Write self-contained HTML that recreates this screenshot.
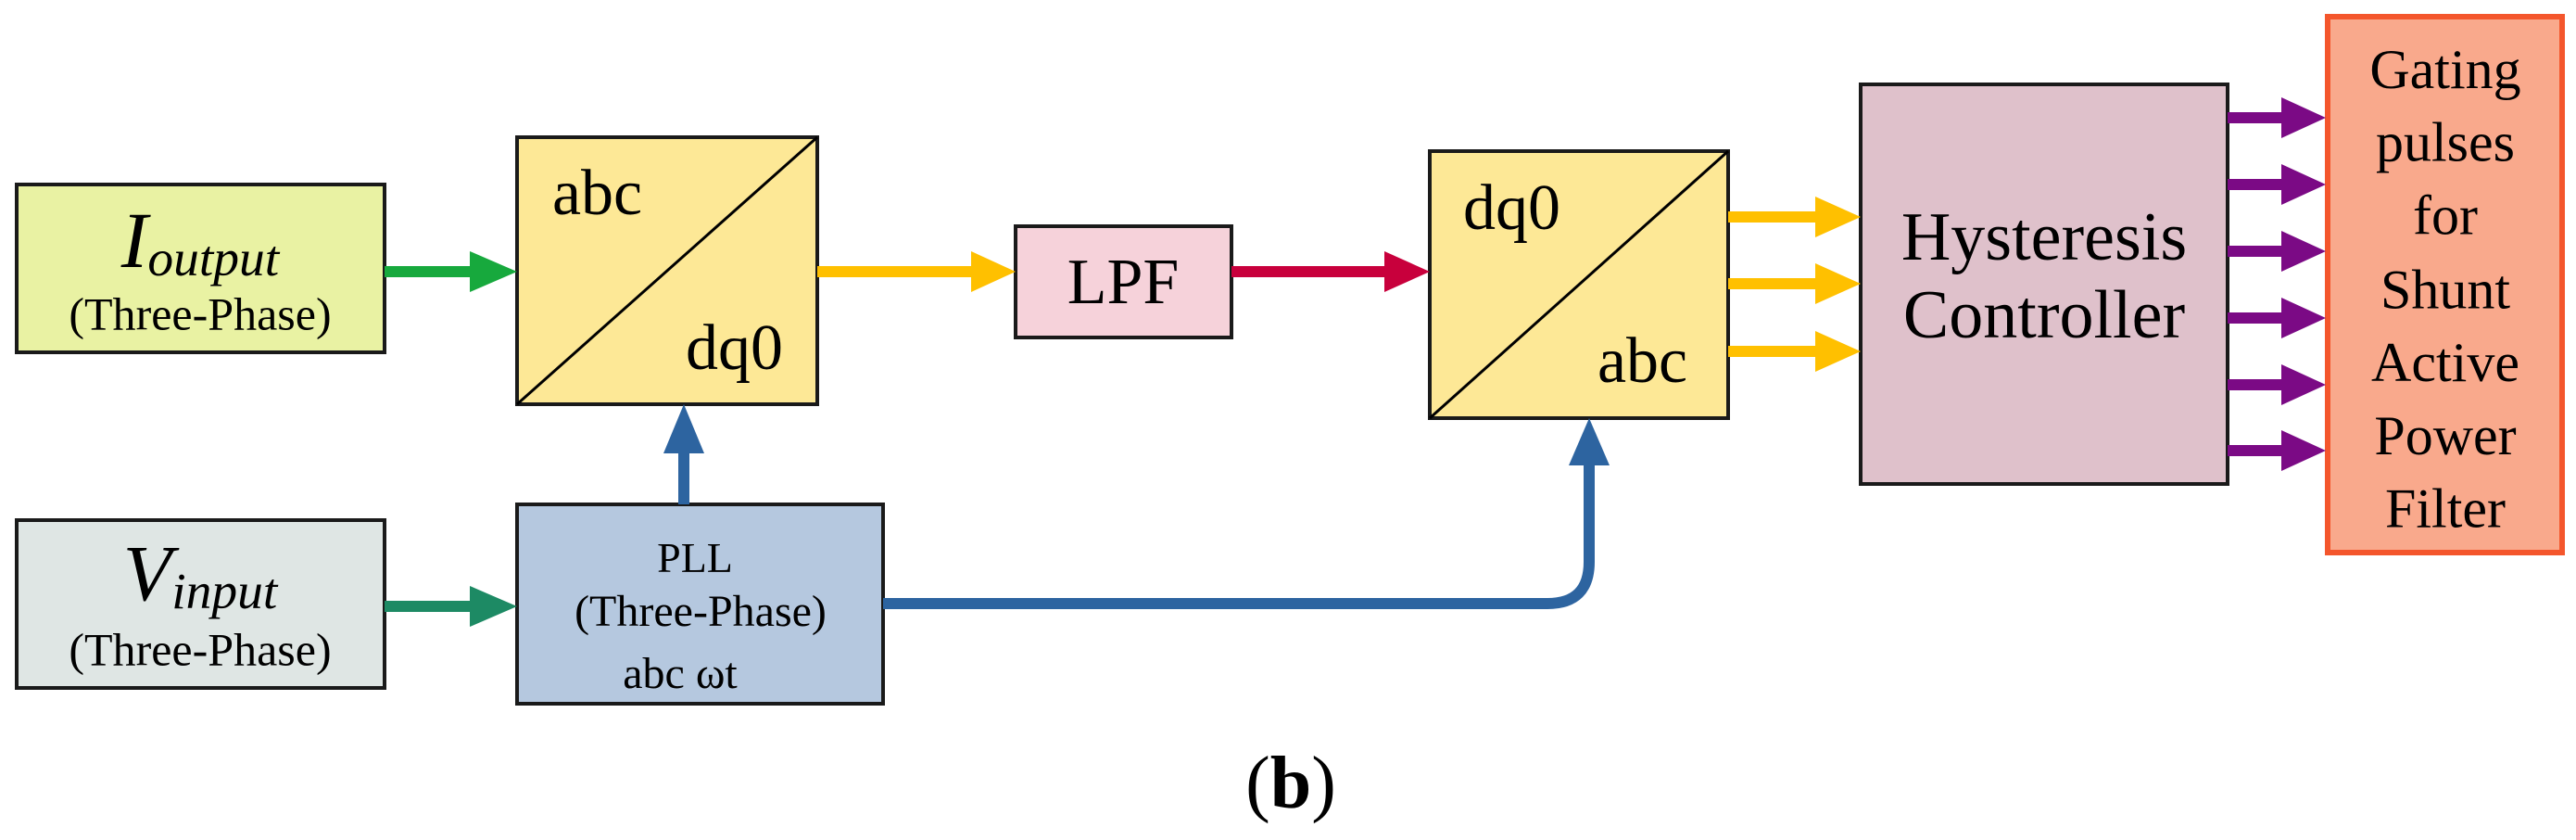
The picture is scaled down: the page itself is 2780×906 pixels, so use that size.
<!DOCTYPE html>
<html><head><meta charset="utf-8"><style>
html,body{margin:0;padding:0;background:#fff;}
#w{position:relative;width:2780px;height:906px;overflow:hidden;}
svg{position:absolute;left:0;top:0;display:block;}
.t{position:absolute;font-family:"Liberation Serif","Times New Roman",serif;font-size:48px;line-height:1;white-space:nowrap;color:#000;transform-origin:0 0;}
.c{width:1000px;text-align:center;transform-origin:50% 0;}
</style></head><body><div id="w">
<svg width="2780" height="906" viewBox="0 0 2780 906" xmlns="http://www.w3.org/2000/svg">
<rect x="18" y="199" width="397" height="181" fill="#e9f2a3" stroke="#1a1a1a" stroke-width="4"/>
<rect x="18" y="561" width="397" height="181" fill="#dfe6e4" stroke="#1a1a1a" stroke-width="4"/>
<rect x="558" y="148" width="324" height="288" fill="#fde896" stroke="#1a1a1a" stroke-width="4"/>
<line x1="558" y1="436" x2="882" y2="148" stroke="#000" stroke-width="3"/>
<rect x="558" y="544" width="395" height="215" fill="#b5c8df" stroke="#1a1a1a" stroke-width="4"/>
<rect x="1096" y="244" width="233" height="120" fill="#f6d2da" stroke="#1a1a1a" stroke-width="4"/>
<rect x="1543" y="163" width="322" height="288" fill="#fde896" stroke="#1a1a1a" stroke-width="4"/>
<line x1="1543" y1="451" x2="1865" y2="163" stroke="#000" stroke-width="3"/>
<rect x="2008" y="91" width="396" height="431" fill="#dfc1cb" stroke="#1a1a1a" stroke-width="4"/>
<rect x="2512" y="18" width="253" height="578" fill="#f9a98c" stroke="#f4562c" stroke-width="6"/>
<g stroke-width="12" fill="none">
<line x1="415" y1="293" x2="510" y2="293" stroke="#17a93d"/>
<line x1="415" y1="654" x2="510" y2="654" stroke="#1d8a64"/>
<line x1="882" y1="293" x2="1050" y2="293" stroke="#ffc000"/>
<line x1="1329" y1="293" x2="1496" y2="293" stroke="#c8003c"/>
<line x1="738" y1="544" x2="738" y2="486" stroke="#2d64a0"/>
<path d="M953 651 L1670 651 Q1715 651 1715 606 L1715 500" stroke="#2d64a0"/>
<line x1="1865" y1="234" x2="1961" y2="234" stroke="#ffc000"/>
<line x1="1865" y1="306" x2="1961" y2="306" stroke="#ffc000"/>
<line x1="1865" y1="379" x2="1961" y2="379" stroke="#ffc000"/>
<g stroke="#7b0a85">
<line x1="2404" y1="127" x2="2464" y2="127"/>
<line x1="2404" y1="199" x2="2464" y2="199"/>
<line x1="2404" y1="271" x2="2464" y2="271"/>
<line x1="2404" y1="343" x2="2464" y2="343"/>
<line x1="2404" y1="415" x2="2464" y2="415"/>
<line x1="2404" y1="486" x2="2464" y2="486"/>
</g>
</g>
<polygon points="507,271 558,293 507,315" fill="#17a93d"/>
<polygon points="507,632 558,654 507,676" fill="#1d8a64"/>
<polygon points="1048,271 1096,293 1048,315" fill="#ffc000"/>
<polygon points="1494,271 1543,293 1494,315" fill="#c8003c"/>
<polygon points="716,489 738,436 760,489" fill="#2d64a0"/>
<polygon points="1693,502 1715,451 1737,502" fill="#2d64a0"/>
<polygon points="1959,212 2008,234 1959,256" fill="#ffc000"/>
<polygon points="1959,284 2008,306 1959,328" fill="#ffc000"/>
<polygon points="1959,357 2008,379 1959,401" fill="#ffc000"/>
<g fill="#7b0a85">
<polygon points="2462,105 2510,127 2462,149"/>
<polygon points="2462,177 2510,199 2462,221"/>
<polygon points="2462,249 2510,271 2462,293"/>
<polygon points="2462,321 2510,343 2462,365"/>
<polygon points="2462,393 2510,415 2462,437"/>
<polygon points="2462,464 2510,486 2462,508"/>
</g>
</svg>

<div class="t c" style="left:-284px;top:218px;font-style:italic;transform:scale(1.79);">I<span style="font-size:31px;position:relative;top:4.5px;">output</span></div>
<div class="t c" style="left:-284px;top:315px;transform:scale(1.042);">(Three-Phase)</div>
<div class="t c" style="left:-284px;top:577px;font-style:italic;transform:scale(1.79);">V<span style="font-size:31px;position:relative;top:4.5px;">input</span></div>
<div class="t c" style="left:-284px;top:677px;transform:scale(1.042);">(Three-Phase)</div>
<div class="t" style="left:596px;top:174px;transform:scale(1.458);">abc</div>
<div class="t" style="left:740px;top:341px;transform:scale(1.458);">dq0</div>
<div class="t c" style="left:250px;top:579px;font-size:46px;">PLL</div>
<div class="t c" style="left:256px;top:636px;">(Three-Phase)</div>
<div class="t c" style="left:234px;top:703px;">abc ωt</div>
<div class="t c" style="left:712px;top:270px;transform:scale(1.458);">LPF</div>
<div class="t" style="left:1579px;top:190px;transform:scale(1.458);">dq0</div>
<div class="t" style="left:1724px;top:355px;transform:scale(1.458);">abc</div>
<div class="t c" style="left:1706px;top:220px;transform:scale(1.542);">Hysteresis</div>
<div class="t c" style="left:1706px;top:304px;transform:scale(1.542);">Controller</div>
<div class="t c" style="left:2139px;top:36px;line-height:63.2px;transform:scale(1.25);">Gating<br>pulses<br>for<br>Shunt<br>Active<br>Power<br>Filter</div>
<div class="t c" style="left:893px;top:806px;transform:scale(1.667);">(<b>b</b>)</div>
</div></body></html>
